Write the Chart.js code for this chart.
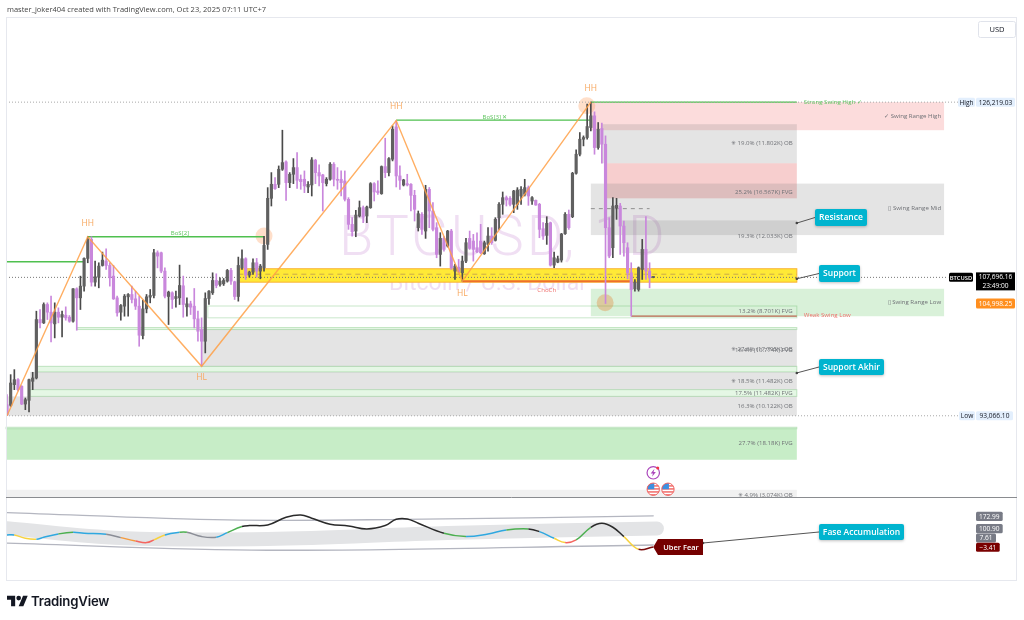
<!DOCTYPE html>
<html>
<head>
<meta charset="utf-8">
<title>BTCUSD 1D</title>
<script src="https://cdn.jsdelivr.net/npm/chart.js@4"></script>
<style>
  html, body { margin: 0; background: #fff; }
  #wrap { position: relative; width: 1024px; height: 620px; overflow: hidden; }
  canvas { position: absolute; left: 0; top: 0; }
  #byline { position: absolute; left: 7px; top: 4px; font: 7.5px "Open Sans", sans-serif; color: #444; white-space: nowrap; }
  #brand { position: absolute; left: 31px; top: 593px; font: 600 13.2px Inter, sans-serif; color: #131722; letter-spacing: -0.2px; }
  #logo { position: absolute; left: 7px; top: 595px; }
</style>
</head>
<body>
<div id="wrap">
  <canvas id="btc" width="1024" height="620"></canvas>
  <div id="byline">master_joker404 created with TradingView.com, Oct 23, 2025 07:11 UTC+7</div>
  <svg id="logo" width="21" height="12" viewBox="0 4 36 18"><path d="M14 22H7V11H0V4h14v18zM28 22h-8l7.5-18h8L28 22z" fill="#131722"/><circle cx="20" cy="8" r="4" fill="#131722"/></svg>
  <div id="brand">TradingView</div>
</div>
<script>
// ------------------- Candles (daily) -------------------
const opens = [
  94237,94167,96356,96885,96179,94308,94696,96709,97061,103239,
  102886,104827,104016,102780,104016,103486,103698,103486,103063,106487,
  105533,106769,109699,111711,107193,107722,108958,109416,108958,107828,
  105533,104016,104651,105639,105886,105428,104651,101545,104369,105604,
  105781,110299,110299,108357,105675,106063,105463,105534,106805,104581,
  104899,104651,103310,102180,100945,105463,106063,107370,106946,107017,
  107299,108429,107228,105675,108711,109664,107934,108252,109241,108358,
  108711,111182,116053,117536,117536,119125,119901,117713,118595,119301,
  118066,118066,117254,117465,120077,118772,118524,117607,118066,119654,
  118066,118066,117889,115948,113300,112594,114182,115065,114182,115065,
  117607,116830,116548,119407,118772,120183,123608,118419,117465,117607,
  117536,116371,112947,114359,112594,117006,114712,112947,110123,111817,
  111005,112594,108358,108782,108182,109417,111817,111535,110829,111535,
  110194,111182,112065,111606,114006,115417,116123,116053,115417,115417,
  116300,116476,117183,115770,115841,115417,112841,112135,113476,108993,
  109311,109522,112311,114358,114111,118700,120713,122301,122478,123536,
  124772,121419,123431,121771,112946,110829,115064,115241,113123,110829,
  108181,106487,106416,108534,110652,108358,107696
];
const closes = [
  93179,96532,96885,95826,94308,94767,96885,97061,103239,102886,
  104827,104016,102886,104016,103486,103768,103416,103063,106487,105533,
  106769,109699,111711,107193,107757,108887,109522,108958,107651,105428,
  103945,104722,105710,105886,105357,104651,101580,104369,105639,105781,
  110299,109946,108357,105710,106134,105357,105675,106840,104828,104899,
  104546,103310,102004,100945,105463,106240,107370,106840,107299,107370,
  108429,107299,105675,108958,109664,107934,108252,109241,108358,108888,
  111076,116053,117536,117077,119125,119830,117713,118595,119301,117960,
  117818,117360,117536,120113,118772,118419,117713,118066,119654,118066,
  117960,117712,115948,113300,112523,114288,115065,114077,115136,117607,
  116724,116654,119407,118772,120254,123360,118419,117959,117995,117465,
  116371,114889,114429,112771,117006,114712,112771,110123,111817,110653,
  112594,108711,108888,108287,109417,111359,110758,110653,110405,110300,
  111359,112065,111359,113830,115417,116123,115876,115417,116829,116935,
  117006,117183,116300,116123,115347,112770,112064,113405,108993,109770,
  109664,112276,114358,112946,118700,120713,122301,122478,123642,124772,
  121419,123360,121771,112946,109946,115241,115311,113123,111358,108181,
  106416,107193,108711,110652,108358,107652,107696
];
const highs = [
  95297,97414,97944,97000,96250,94944,96956,97662,104121,104298,
  105004,105004,105710,105004,104474,104121,104580,103663,106522,106593,
  107828,109769,111993,111993,109416,109240,110370,110723,109240,108958,
  105710,104827,105886,105992,106769,106240,105710,105286,105886,106416,
  110652,110500,110370,108710,106240,106170,106240,108993,107829,105534,
  105181,106522,104122,103416,106063,106311,108181,108076,107652,107581,
  108535,108640,107299,109841,110617,109770,108358,109664,109700,109064,
  112029,117183,118772,118242,119478,123255,120007,118772,120254,120890,
  118524,118948,117818,120360,120183,119583,118595,118242,119830,119830,
  119301,118948,118948,116124,114006,114783,115771,115242,115242,117712,
  117712,117889,119477,122407,120360,123713,124270,119477,118066,118595,
  117607,116901,114712,114536,117430,117200,115594,113477,112418,112000,
  112665,112771,109064,109593,109947,111817,112594,112241,112418,113300,
  111535,112947,112947,114006,115594,116724,116300,116230,116900,117183,
  117288,118065,117359,116230,115880,115523,113476,114111,113546,110370,
  109946,112346,114535,114817,118800,121171,123007,122654,126007,126219,
  125196,124066,123995,122654,114006,116123,116053,115523,113653,111358,
  109240,107475,108800,111711,114111,109240,107750
];
const lows = [
  93066,94061,95826,95700,94237,93708,93461,95826,96956,102356,
  102815,103239,100874,101298,102886,101403,103168,102950,102950,102109,
  104298,106240,109240,106769,106769,106593,108887,108534,106769,105357,
  103592,103168,103592,103592,105004,104298,100415,101192,103945,105004,
  105533,108700,108181,105533,102710,104404,104546,104828,103487,103593,
  103769,102357,100945,98297,99710,104828,105887,106593,106770,106840,
  107193,106946,105357,105181,108535,107476,107723,108005,107723,107546,
  108358,110652,115241,117007,117183,119000,115842,117183,117607,117112,
  117007,116653,116653,116300,117607,117360,114712,117360,117960,117360,
  117007,116300,115771,112771,112065,111994,114077,113477,113477,114994,
  115771,116477,116477,118242,118419,120007,117254,117006,117359,117359,
  114712,113653,112594,112241,111817,112947,112594,109770,108888,110476,
  110900,108534,107475,108182,107299,109240,110653,109417,110300,110200,
  110123,110476,111182,111535,112770,114359,115241,115241,114535,114888,
  115417,116300,115312,115417,115312,111887,111711,111182,108887,108711,
  109240,109311,112240,112770,114006,118595,120536,121595,122301,123183,
  120713,121242,119759,104933,109770,109770,113829,110123,109946,107545,
  103592,106240,106240,107475,107475,106592,107650
];

// swing structure
const swingBars = [0, 22, 53, 106, 124, 159];
const swingPrices = [93066, 111993, 98297, 124270, 107299, 126219];

// key price levels
const levelNames = ["High", "Low", "BTCUSD", "Pre-market"];
const levelPrices = [126219.03, 93066.10, 107696.16, 104998.25];

// supply / demand zones: first bar, last bar, top price, bottom price, kind
const zoneFrom  = [159, 162, 163, 159, 167.4, 63, 159, 54.7, 19, 53.1, 8.2, 6.3, 6.3, -0.27, -0.27, -0.27, -0.27];
const zoneTo    = [255.2, 215.1, 215.1, 255.2, 215.1, 215.1, 255.2, 215.1, 215.1, 215.1, 215.1, 215.1, 215.1, 215.1, 215.1, 215.1, 215.1];
const zoneTop   = [126219, 123890, 119759, 117610, 113723, 108608, 106490, 104669, 102392, 102180, 98293, 97700, 95826, 95117, 91854, 91696, 85236];
const zoneBase  = [123254, 119759, 116053, 112166, 110260, 107189, 103590, 103419, 102180, 98262, 97700, 95826, 95117, 93066, 91696, 88414, 84442];
const zoneKinds = ["swingRed", "gray", "red", "gray", "gray", "yellow", "green", "outline", "pale", "gray", "pale", "gray", "pale", "gray", "pale", "fvg", "lightGray"];

// sentiment oscillator in the lower pane
const oscBars   = [0, 2, 5, 8, 10, 14, 18, 21, 27, 31, 35, 38, 40, 43, 47, 49, 53, 57, 60, 64, 66, 71, 76, 80, 83, 88, 93, 98, 103, 106, 109, 112, 119, 125, 131, 136, 142, 145, 149, 152, 155, 159, 162, 165, 168, 172, 176];
const oscValues = [64.8, 64.8, 45.8, 40.2, 51.5, 70.5, 80, 74.3, 68.6, 49.6, 30.7, 21.2, 36.4, 64.8, 80, 80, 55.3, 51.5, 78.1, 112.3, 118, 121.7, 165.3, 178.6, 159.7, 125.5, 116, 99, 118, 154, 155.9, 131.2, 74.3, 55.3, 70.5, 93.3, 99, 83.8, 45.8, 21.2, 36.4, 108.4, 131.2, 108.4, 55.3, -16.8, -3.41];
const oscTones  = ["blue", "yellow", "yellow", "blue", "blue", "green", "blue", "blue", "gray", "orange", "red", "red", "yellow", "blue", "green", "gray", "gray", "blue", "green", "black", "black", "black", "black", "black", "black", "black", "black", "black", "black", "black", "black", "black", "green", "blue", "blue", "green", "black", "blue", "yellow", "red", "green", "black", "black", "black", "yellow", "darkRed", "darkRed"];
const upperBars = [0, 60, 108, 176];
const upperBand = [191.8, 150.2, 153, 172.99];
const lowerBars = [0, 71, 176];
const lowerBand = [17.7, -22.2, 7.61];
const midBars   = [0, 31, 71, 120, 177];
const midBand   = [103, 47.8, 42, 76.3, 100.9];

// ------------------- Helper Functions -------------------

const FONT = '"Open Sans", sans-serif';
const PURPLE = "#c987dc";
const DARK = "#606060";
const TONE_COLORS = { blue: "#2fa8e0", yellow: "#f7d23e", green: "#4caf50", gray: "#8a8d96", orange: "#f59a3c", red: "#f4655f", black: "#2a2a2a", darkRed: "#7a0c0c" };
const ZONE_STYLES = {
  swingRed:  { fill: "rgba(240,80,80,0.2)" },
  red:       { fill: "rgba(225,60,60,0.25)" },
  gray:      { fill: "rgba(120,120,120,0.2)" },
  lightGray: { fill: "rgba(120,120,120,0.1)" },
  yellow:    { fill: "#ffe936", stroke: "#f9b233" },
  green:     { fill: "rgba(80,190,80,0.22)" },
  outline:   { stroke: "rgba(76,175,80,0.3)" },
  pale:      { fill: "rgba(110,210,110,0.18)", stroke: "rgba(76,175,80,0.3)" },
  fvg:       { fill: "rgba(80,200,80,0.32)" }
};

function candleIndexes() { return opens.map((_, i) => i); }
function toPoints(xs, ys) { return xs.map((x, i) => ({ x: x, y: ys[i] })); }
function isUp(i) { return closes[i] >= opens[i]; }

function flatLine(from, to, price, color, width, dash) {
  return {
    type: "line", data: [{ x: from, y: price }, { x: to, y: price }],
    borderColor: color, borderWidth: width, borderDash: dash || [],
    pointRadius: 0, yAxisID: "y", order: 4
  };
}

function spot(bar, price, color) {
  return {
    type: "line", data: [{ x: bar, y: price }], showLine: false,
    pointRadius: 8.5, pointBackgroundColor: color, pointBorderWidth: 0,
    yAxisID: "y", order: 6
  };
}

function bandLine(xs, ys, color, width) {
  return {
    type: "line", data: toPoints(xs, ys), borderColor: color, borderWidth: width,
    borderCapStyle: "round", tension: 0.35, pointRadius: 0, yAxisID: "y2", order: 7
  };
}

function roundBox(ctx, x, y, w, h, r) {
  ctx.beginPath();
  ctx.roundRect(x, y, w, h, r);
}

function drawTag(ctx, x, y, w, h, fill, text, color, font) {
  ctx.fillStyle = fill;
  roundBox(ctx, x, y, w, h, 1.5);
  ctx.fill();
  ctx.fillStyle = color;
  ctx.font = font;
  ctx.textAlign = "center";
  ctx.textBaseline = "middle";
  ctx.fillText(text, x + w / 2, y + h / 2 + 0.5);
}

function drawCallout(ctx, text, ax, ay, x, y, w, h) {
  ctx.strokeStyle = "#555";
  ctx.lineWidth = 1;
  ctx.beginPath();
  ctx.moveTo(ax, ay);
  ctx.lineTo(x, y + h / 2);
  ctx.stroke();
  ctx.fillStyle = "#444";
  ctx.beginPath();
  ctx.arc(ax, ay, 1.3, 0, Math.PI * 2);
  ctx.fill();
  ctx.save();
  ctx.shadowColor = "rgba(0,0,0,0.25)";
  ctx.shadowBlur = 3;
  ctx.shadowOffsetY = 1;
  ctx.fillStyle = "#00b4cf";
  roundBox(ctx, x, y, w, h, 2);
  ctx.fill();
  ctx.restore();
  ctx.fillStyle = "#fff";
  ctx.font = "600 8.5px " + FONT;
  ctx.textAlign = "center";
  ctx.textBaseline = "middle";
  ctx.fillText(text, x + w / 2, y + h / 2 + 0.5);
}

function drawFlag(ctx, cx, cy) {
  const r = 6.2;
  ctx.save();
  ctx.fillStyle = "#fff";
  ctx.beginPath();
  ctx.arc(cx, cy, r, 0, Math.PI * 2);
  ctx.fill();
  ctx.clip();
  ctx.fillStyle = "#f0625f";
  for (let s = -4; s <= 6; s += 3) ctx.fillRect(cx - r, cy + s, r * 2, 1.4);
  ctx.fillStyle = "#3d8fe0";
  ctx.fillRect(cx - r, cy - r, r + 1, r);
  ctx.restore();
  ctx.strokeStyle = "#f0625f";
  ctx.lineWidth = 1;
  ctx.beginPath();
  ctx.arc(cx, cy, r, 0, Math.PI * 2);
  ctx.stroke();
}

const overlayPlugin = {
  id: "overlays",
  beforeDatasetsDraw(chart) {
    const { ctx, scales: { x, y } } = chart;
    ctx.save();
    // watermark
    ctx.fillStyle = "rgba(156,39,176,0.15)";
    ctx.textBaseline = "middle";
    ctx.textAlign = "left";
    ctx.font = "300 56px Roboto, sans-serif";
    ctx.letterSpacing = "3px";
    ctx.fillText("BTCUSD, 1D", 339, 241);
    ctx.letterSpacing = "0px";
    ctx.textAlign = "center";
    ctx.font = "400 23px Roboto, sans-serif";
    ctx.fillText("Bitcoin / U.S. Dollar", 488, 284);

    // zones
    zoneKinds.forEach((kind, i) => {
      const style = ZONE_STYLES[kind];
      const left = x.getPixelForValue(zoneFrom[i]);
      const right = x.getPixelForValue(zoneTo[i]);
      const top = y.getPixelForValue(zoneTop[i]);
      const bottom = y.getPixelForValue(zoneBase[i]);
      if (style.fill) {
        ctx.fillStyle = style.fill;
        ctx.fillRect(left, top, right - left, bottom - top);
      }
      if (style.stroke) {
        ctx.strokeStyle = style.stroke;
        ctx.lineWidth = 1;
        ctx.strokeRect(left, top, right - left, bottom - top);
      }
    });
    ctx.restore();
  },
  afterDatasetsDraw(chart) {
    const { ctx, chartArea, scales: { x, y, y2 } } = chart;
    const px = (bar) => x.getPixelForValue(bar);
    const py = (price) => y.getPixelForValue(price);
    ctx.save();

    // zone captions
    const captions = [
      ["✳ 19.0% (11.802K) OB", 121846], ["25.2% (16.567K) FVG", 116657], ["19.3% (12.033K) OB", 112060],
      ["13.2% (8.701K) FVG", 104086], ["✳ 27.6% (17.795K) OB", 100136], ["16.4% (10.774K) FVG", 99956],
      ["✳ 18.5% (11.482K) OB", 96705], ["17.5% (11.482K) FVG", 95477], ["16.3% (10.122K) OB", 94057],
      ["27.7% (18.18K) FVG", 90182], ["✳ 4.9% (3.074K) OB", 84631]
    ];
    ctx.font = "6.1px " + FONT;
    ctx.textAlign = "right";
    ctx.textBaseline = "middle";
    ctx.fillStyle = "#6f7176";
    captions.forEach((c) => ctx.fillText(c[0], px(214), py(c[1])));
    ctx.fillText("✓ Swing Range High", px(254.4), py(124768));
    ctx.fillText("▯ Swing Range Mid", px(254.4), py(114962));
    ctx.fillText("▯ Swing Range Low", px(254.4), py(105071));

    // structure labels
    ctx.textAlign = "center";
    ctx.font = "8.5px " + FONT;
    ctx.fillStyle = "#f7a860";
    [[22, 113405, "HH"], [106, 125796, "HH"], [159, 127700, "HH"], [53, 97097, "HL"], [124, 105992, "HL"]]
      .forEach((l) => ctx.fillText(l[2], px(l[0]), py(l[1])));
    ctx.font = "6.1px " + FONT;
    ctx.fillStyle = "#5fc45f";
    ctx.fillText("BoS[2]", px(47.1), py(112346));
    ctx.fillText("BoS[3] ✕", px(132.9), py(124631));
    ctx.textAlign = "left";
    ctx.fillText("Strong Swing High ✓", px(217), py(126219));
    ctx.fillStyle = "#ef6f6c";
    ctx.fillText("Weak Swing Low", px(217), py(103662));
    ctx.textAlign = "center";
    ctx.fillText("ChoCh", px(147), py(106310));

    // event icons
    const fx = px(176), fy = py(87037);
    ctx.strokeStyle = "#ab47bc";
    ctx.lineWidth = 1.2;
    ctx.beginPath();
    ctx.arc(fx, fy, 6.2, 0, Math.PI * 2);
    ctx.stroke();
    ctx.fillStyle = "#ab47bc";
    ctx.beginPath();
    ctx.moveTo(fx + 1.2, fy - 4);
    ctx.lineTo(fx - 2.6, fy + 0.8);
    ctx.lineTo(fx - 0.3, fy + 0.8);
    ctx.lineTo(fx - 1.2, fy + 4);
    ctx.lineTo(fx + 2.6, fy - 0.8);
    ctx.lineTo(fx + 0.3, fy - 0.8);
    ctx.closePath();
    ctx.fill();
    ctx.fillStyle = "#f23645";
    ctx.beginPath();
    ctx.arc(fx + 4.5, fy - 4.7, 1.5, 0, Math.PI * 2);
    ctx.fill();
    drawFlag(ctx, px(176), py(85300));
    drawFlag(ctx, px(180), py(85300));

    // pane frame and divider
    ctx.strokeStyle = "#e6e8ee";
    ctx.lineWidth = 1;
    ctx.strokeRect(chartArea.left + 0.5, chartArea.top + 0.5, chartArea.width - 1, chartArea.height - 1);
    ctx.strokeStyle = "#8a8c90";
    ctx.beginPath();
    ctx.moveTo(chartArea.left, Math.round(py(84442)) + 0.5);
    ctx.lineTo(chartArea.right, Math.round(py(84442)) + 0.5);
    ctx.stroke();

    // callouts
    drawCallout(ctx, "Resistance", px(215.1), py(113437), 815, 209, 52, 17);
    drawCallout(ctx, "Support", px(215.1), py(107549), 819, 265, 41, 17);
    drawCallout(ctx, "Support Akhir", px(215.1), py(97595), 819, 359, 65, 16);
    drawCallout(ctx, "Fase Accumulation", 703, 543, 819, 524, 85, 16);

    // oscillator tag
    const tipX = px(176), tipY = y2.getPixelForValue(-3.41);
    ctx.fillStyle = "#750000";
    ctx.beginPath();
    ctx.moveTo(tipX, tipY);
    ctx.lineTo(658, tipY - 8);
    ctx.lineTo(703, tipY - 8);
    ctx.lineTo(703, tipY + 8);
    ctx.lineTo(658, tipY + 8);
    ctx.closePath();
    ctx.fill();
    ctx.fillStyle = "#fff";
    ctx.font = "600 7.5px " + FONT;
    ctx.fillText("Uber Fear", 681, tipY + 0.5);

    // price scale tags
    const tagFont = "6.6px " + FONT;
    const blue = "#e3effd", ink = "#131722";
    drawTag(ctx, 958, py(levelPrices[0]) - 4.5, 17, 9, blue, "High", ink, tagFont);
    drawTag(ctx, 976, py(levelPrices[0]) - 4.5, 39, 9, blue, "126,219.03", ink, tagFont);
    drawTag(ctx, 959, py(levelPrices[1]) - 4.5, 16, 9, blue, "Low", ink, tagFont);
    drawTag(ctx, 976, py(levelPrices[1]) - 4.5, 37, 9, blue, "93,066.10", ink, tagFont);
    const nowY = py(levelPrices[2]);
    drawTag(ctx, 949, nowY - 4.5, 24, 9, "#000", "BTCUSD", "#fff", "600 5.8px " + FONT);
    ctx.fillStyle = "#000";
    ctx.fillRect(976, nowY - 5, 39, 18);
    ctx.fillStyle = "#fff";
    ctx.font = tagFont;
    ctx.fillText("107,696.16", 995.5, nowY);
    ctx.fillText("23:49:00", 995.5, nowY + 8.5);
    drawTag(ctx, 976, py(levelPrices[3]) - 4.5, 39, 10, "#ff8f1f", "104,998.25", "#fff", tagFont);

    drawTag(ctx, 976, 511.7, 26.7, 9.3, "#787b86", "172.99", "#fff", tagFont);
    drawTag(ctx, 976, 524, 26.7, 9.3, "#787b86", "100.90", "#fff", tagFont);
    drawTag(ctx, 976, 533.5, 20, 9, "#787b86", "7.61", "#fff", tagFont);
    drawTag(ctx, 976, 542.7, 23.7, 9, "#7a0000", "−3.41", "#fff", tagFont);

    // currency button
    ctx.strokeStyle = "#e0e3eb";
    roundBox(ctx, 978.5, 21.5, 37, 16, 2);
    ctx.stroke();
    ctx.fillStyle = "#131722";
    ctx.font = "7.5px " + FONT;
    ctx.fillText("USD", 997, 30);
    ctx.restore();
  }
};

// ------------------- Chart -------------------
new Chart(document.getElementById("btc"), {
  data: {
    datasets: [
      // price lines
      {
        type: "line", data: toPoints(swingBars, swingPrices), borderColor: "rgba(255,160,70,0.85)", borderWidth: 1.4,
        pointRadius: 0, yAxisID: "y", order: 0
      },
      flatLine(-0.27, 259, levelPrices[0], "#a8a8a8", 1, [1, 2]),
      flatLine(-0.27, 259, levelPrices[1], "#a8a8a8", 1, [1, 2]),
      flatLine(-0.27, 256.3, levelPrices[2], "#777", 1, [1, 2]),
      flatLine(159, 175, 114962, "#909090", 1, [4, 4]),
      flatLine(63, 215.1, 108030, "#c9a94a", 1, [5, 4]),
      flatLine(-0.27, 21, 109350, "#4fc04f", 1.3),
      flatLine(22, 70, 111993, "#4fc04f", 1.3),
      flatLine(106, 159, 124313, "#4fc04f", 1.3),
      flatLine(159, 215.1, 126219, "#4fc04f", 1.3),
      flatLine(124, 170, 107299, "#ef6f2c", 2),
      flatLine(170, 215.1, 103592, "#b5654a", 1.3),
      spot(70, 112060, "rgba(255,150,80,0.3)"),
      spot(157.9, 125827, "rgba(255,150,80,0.3)"),
      spot(162.9, 105008, "rgba(225,130,50,0.35)"),
      // candles
      {
        type: "bar", data: candleIndexes().map((i) => ({ x: i, y: [lows[i], highs[i]] })),
        backgroundColor: (c) => (isUp(c.dataIndex) ? "#4a4a4a" : PURPLE),
        barThickness: 1, grouped: false, yAxisID: "y", order: 2
      },
      {
        type: "bar", data: candleIndexes().map((i) => ({ x: i, y: [Math.min(opens[i], closes[i]), Math.max(opens[i], closes[i])] })),
        backgroundColor: (c) => (isUp(c.dataIndex) ? DARK : PURPLE),
        barThickness: 2.5, minBarLength: 1, grouped: false, yAxisID: "y", order: 1
      },
      // oscillator
      bandLine(midBars, midBand, "#e3e4e6", 14),
      bandLine(upperBars, upperBand, "#b4b6c0", 1.3),
      bandLine(lowerBars, lowerBand, "#b4b6c0", 1.3),
      {
        type: "line", data: toPoints(oscBars, oscValues), borderWidth: 1.5, tension: 0.4, pointRadius: 0, yAxisID: "y2", order: 3,
        borderColor: "#2a2a2a",
        segment: { borderColor: (c) => TONE_COLORS[oscTones[c.p0DataIndex]] }
      }
    ]
  },
  options: {
    responsive: false,
    animation: false,
    layout: { autoPadding: false, padding: { left: 6, right: 7, top: 17, bottom: 39 } },
    plugins: { legend: { display: false }, tooltip: { enabled: false } },
    scales: {
      x: { type: "linear", display: false, min: -0.27, max: 275.06, offset: false },
      y: { display: false, min: 75599, max: 135221 },
      y2: { display: false, min: -196.86, max: 3006.6 }
    }
  },
  plugins: [overlayPlugin]
});
</script>
</body>
</html>
